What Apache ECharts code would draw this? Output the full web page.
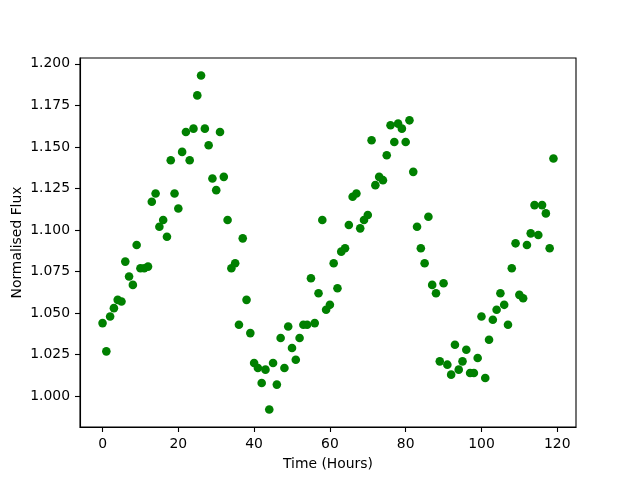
<!DOCTYPE html>
<html>
<head>
<meta charset="utf-8">
<script src="https://cdn.jsdelivr.net/npm/echarts@6/dist/echarts.min.js"></script>
<style>
  html, body { margin: 0; padding: 0; background: #fff; }
  #main { width: 640px; height: 480px; }
</style>
</head>
<body>
<div id="main"></div>
<script>
// hours and normalised flux
var hours = [];
for (var h = 0; h < 120; h++) hours.push(h);

var flux = [
  1.044, 1.027, 1.048, 1.053, 1.058, 1.057, 1.081, 1.072, 1.067, 1.091,
  1.077, 1.077, 1.078, 1.117, 1.122, 1.102, 1.106, 1.096, 1.142, 1.122,
  1.113, 1.147, 1.159, 1.142, 1.161, 1.181, 1.193, 1.161, 1.151, 1.131,
  1.124, 1.159, 1.132, 1.106, 1.077, 1.080, 1.043, 1.095, 1.058, 1.038,
  1.020, 1.017, 1.008, 1.016, 0.992, 1.020, 1.007, 1.035, 1.017, 1.042,
  1.029, 1.022, 1.035, 1.043, 1.043, 1.071, 1.044, 1.062, 1.106, 1.052,
  1.055, 1.080, 1.065, 1.087, 1.089, 1.103, 1.120, 1.122, 1.101, 1.106,
  1.109, 1.154, 1.127, 1.132, 1.130, 1.145, 1.163, 1.153, 1.164, 1.161,
  1.153, 1.166, 1.135, 1.102, 1.089, 1.080, 1.108, 1.067, 1.062, 1.021,
  1.068, 1.019, 1.013, 1.031, 1.016, 1.021, 1.028, 1.014, 1.014, 1.023,
  1.048, 1.011, 1.034, 1.046, 1.052, 1.062, 1.055, 1.043, 1.077, 1.092,
  1.061, 1.059, 1.091, 1.098, 1.115, 1.097, 1.115, 1.110, 1.089, 1.143
];

var xTicks = [0, 20, 40, 60, 80, 100, 120];
var yTicks = [1.000, 1.025, 1.050, 1.075, 1.100, 1.125, 1.150, 1.175, 1.200];

var points = hours.map(function (x, i) { return [x, flux[i]]; });

var font = 'DejaVu Sans';
var myChart = echarts.init(document.getElementById('main'));

var option = {
  animation: false,
  backgroundColor: '#fff',
  grid: {
    left: 80, right: 64, top: 58, bottom: 53,
    outerBoundsMode: 'none',
    containLabel: false,
    show: true, borderColor: '#000', borderWidth: 1.1, backgroundColor: 'transparent'
  },
  xAxis: {
    type: 'value',
    min: -5.95, max: 124.95,
    name: 'Time (Hours)',
    nameLocation: 'middle',
    nameGap: 30,
    nameMoveOverlap: false,
    nameTextStyle: { color: '#000', fontFamily: font, fontSize: 13.9 },
    axisLine: { show: true, onZero: false, lineStyle: { color: '#000', width: 1.1 } },
    splitLine: { show: false },
    axisTick: { show: true, length: 5, lineStyle: { color: '#000', width: 1.1 }, customValues: xTicks },
    axisLabel: { color: '#000', fontFamily: font, fontSize: 13.9, margin: 10, customValues: xTicks }
  },
  yAxis: {
    type: 'value',
    min: 0.9815, max: 1.2035,
    name: 'Normalised Flux',
    nameLocation: 'middle',
    nameGap: 56,
    nameMoveOverlap: false,
    nameTextStyle: { color: '#000', fontFamily: font, fontSize: 13.9 },
    axisLine: { show: true, onZero: false, lineStyle: { color: '#000', width: 1.1 } },
    splitLine: { show: false },
    axisTick: { show: true, length: 5, lineStyle: { color: '#000', width: 1.1 }, customValues: yTicks },
    axisLabel: {
      color: '#000', fontFamily: font, fontSize: 13.9, margin: 10, customValues: yTicks,
      formatter: function (v) { return v.toFixed(3); }
    }
  },
  series: [{
    type: 'scatter',
    data: points,
    symbolSize: 8.6,
    itemStyle: { color: '#008000', opacity: 1 }
  }]
};

myChart.setOption(option);
</script>
</body>
</html>
